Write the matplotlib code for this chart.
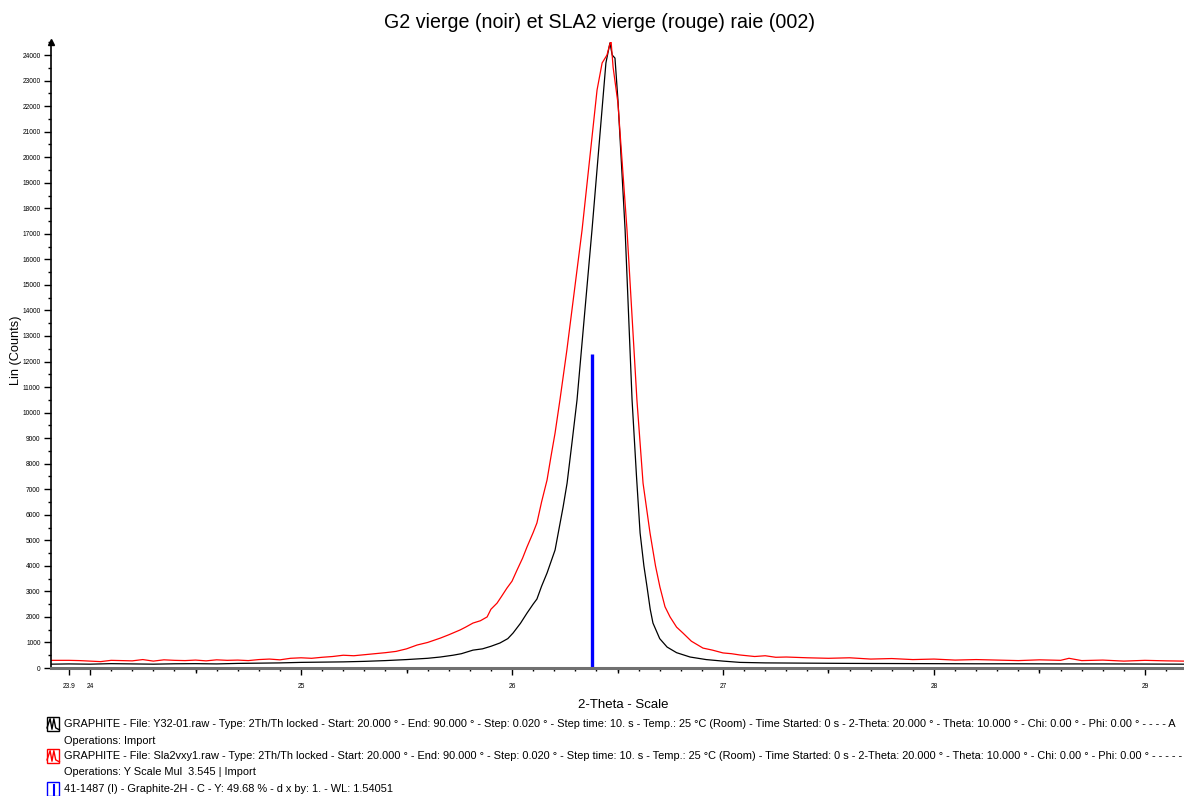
import matplotlib
import matplotlib.pyplot as plt
from matplotlib.patches import Rectangle
from matplotlib.lines import Line2D
from matplotlib.ticker import MultipleLocator

matplotlib.rcParams['font.family'] = ['Liberation Sans', 'DejaVu Sans']

# G2 vierge (noir)
theta_g2 = [23.815, 23.9, 24.0, 24.1, 24.2, 24.3, 24.4, 24.5, 24.6, 24.7, 24.8, 24.9,
            25.0, 25.1, 25.2, 25.3, 25.4, 25.5, 25.6, 25.66, 25.72, 25.76, 25.815, 25.86,
            25.9, 25.943, 25.98, 26.005, 26.04, 26.071, 26.1, 26.118, 26.14, 26.166, 26.204,
            26.242, 26.261, 26.284, 26.308, 26.379, 26.445, 26.464, 26.475, 26.488, 26.502,
            26.536, 26.569, 26.59, 26.607, 26.625, 26.64, 26.655, 26.668, 26.7, 26.735,
            26.78, 26.844, 26.92, 27.0, 27.08, 27.2, 27.4, 27.6, 27.8, 28.0, 28.2, 28.4,
            28.6, 28.8, 29.0, 29.185]
counts_g2 = [150, 160, 150, 170, 160, 150, 165, 170, 160, 180, 190, 200,
             220, 230, 240, 260, 290, 330, 380, 430, 500, 560, 700, 750,
             850, 980, 1150, 1370, 1750, 2150, 2500, 2700, 3200, 3720, 4620,
             6300, 7240, 8810, 10490, 17150, 23690, 24470, 24000, 23880, 22240,
             17150, 10490, 7500, 5290, 4000, 3170, 2300, 1760, 1150, 820,
             600, 430, 330, 270, 220, 200, 190, 180, 175, 170, 165, 165,
             160, 160, 155, 150]

# SLA2 vierge (rouge)
theta_sla2 = [23.815, 23.9, 23.95, 24.0, 24.05, 24.1, 24.15, 24.2, 24.25, 24.3, 24.35,
              24.4, 24.45, 24.5, 24.55, 24.6, 24.65, 24.7, 24.75, 24.8, 24.85, 24.9,
              24.95, 25.0, 25.05, 25.1, 25.15, 25.2, 25.25, 25.3, 25.35, 25.4, 25.45,
              25.5, 25.55, 25.6, 25.66, 25.7, 25.754, 25.78, 25.815, 25.85, 25.882, 25.9,
              25.929, 25.95, 25.976, 26.0, 26.024, 26.05, 26.071, 26.1, 26.118, 26.14,
              26.166, 26.185, 26.204, 26.227, 26.26, 26.332, 26.403, 26.427, 26.45,
              26.469, 26.479, 26.502, 26.545, 26.592, 26.621, 26.654, 26.68, 26.701,
              26.725, 26.749, 26.78, 26.81, 26.85, 26.905, 26.95, 27.0, 27.04, 27.08,
              27.15, 27.2, 27.25, 27.3, 27.4, 27.5, 27.6, 27.7, 27.8, 27.9, 28.0, 28.1,
              28.2, 28.3, 28.4, 28.5, 28.6, 28.64, 28.7, 28.8, 28.9, 29.0, 29.1, 29.185]
counts_sla2 = [300, 300, 290, 270, 250, 300, 290, 280, 330, 270, 320,
               300, 290, 310, 280, 320, 300, 310, 290, 330, 350, 320,
               380, 400, 380, 420, 450, 500, 480, 520, 560, 600, 650,
               750, 900, 1000, 1170, 1300, 1490, 1600, 1760, 1850, 2000, 2300,
               2540, 2800, 3130, 3400, 3840, 4300, 4740, 5300, 5680, 6500,
               7360, 8300, 9200, 10490, 12450, 17150, 22630, 23690, 24000,
               24590, 23530, 22120, 17150, 10490, 7240, 5290, 4000, 3170,
               2400, 2000, 1600, 1370, 1050, 780, 700, 590, 560, 510,
               450, 480, 420, 430, 400, 380, 400, 350, 370, 330, 350, 310,
               330, 310, 290, 320, 300, 380, 290, 310, 270, 300, 280, 270]

# 41-1487 Graphite-2H stick
ref_theta = [26.38]
ref_counts = [12290]

x_major = [23.9, 24, 25, 26, 27, 28, 29]
x_half = [24.5, 25.5, 26.5, 27.5, 28.5]

legend_lines = [
    'GRAPHITE - File: Y32-01.raw - Type: 2Th/Th locked - Start: 20.000 ° - End: 90.000 ° - Step: 0.020 ° - Step time: 10. s - Temp.: 25 °C (Room) - Time Started: 0 s - 2-Theta: 20.000 ° - Theta: 10.000 ° - Chi: 0.00 ° - Phi: 0.00 ° - - - - A',
    'Operations: Import',
    'GRAPHITE - File: Sla2vxy1.raw - Type: 2Th/Th locked - Start: 20.000 ° - End: 90.000 ° - Step: 0.020 ° - Step time: 10. s - Temp.: 25 °C (Room) - Time Started: 0 s - 2-Theta: 20.000 ° - Theta: 10.000 ° - Chi: 0.00 ° - Phi: 0.00 ° - - - - -',
    'Operations: Y Scale Mul  3.545 | Import',
    '41-1487 (I) - Graphite-2H - C - Y: 49.68 % - d x by: 1. - WL: 1.54051',
]

fig = plt.figure(figsize=(11.84, 7.96), dpi=100)
ax = fig.add_axes([0.0431, 0.1608, 0.9569, 0.7864])

ax.plot(theta_g2, counts_g2, color='black', lw=0.9)
ax.plot(theta_sla2, counts_sla2, color='red', lw=0.9)
ax.vlines(ref_theta, 0, ref_counts, color='#0000ff', lw=2.4)

ax.set_xlim(23.815, 29.185)
ax.set_ylim(0, 24510)

ax.spines['top'].set_visible(False)
ax.spines['right'].set_visible(False)
ax.spines['left'].set_linewidth(1.2)
ax.spines['bottom'].set_color('#707070')
ax.spines['bottom'].set_linewidth(2.2)
ax.plot([23.815], [24510], marker='^', color='black', ms=4, clip_on=False)

ax.yaxis.set_major_locator(MultipleLocator(1000))
ax.yaxis.set_minor_locator(MultipleLocator(500))
ax.set_xticks(x_major)
ax.set_xticklabels([('%g' % v) for v in x_major])
ax.xaxis.set_minor_locator(MultipleLocator(0.1))
ax.tick_params(axis='both', which='major', labelsize=4.8, length=5, width=1, color='black')
ax.tick_params(axis='y', which='major', pad=2.5)
ax.tick_params(axis='x', which='major', pad=6)
ax.tick_params(axis='both', which='minor', length=2.5, width=1, color='black')

sec = ax.secondary_xaxis('bottom')
sec.set_xticks(x_half)
sec.set_xticklabels([])
sec.tick_params(length=3.8, width=1, color='black')
sec.spines['bottom'].set_visible(False)

fig.text(0.506, 0.972, 'G2 vierge (noir) et SLA2 vierge (rouge) raie (002)',
         ha='center', va='center', fontsize=14.1)
fig.text(0.526, 0.1143, '2-Theta - Scale', ha='center', va='center', fontsize=9.5)
fig.text(0.0132, 0.560, 'Lin (Counts)', ha='center', va='center', rotation=90, fontsize=9.2)

# legend block at the bottom
icon_colors = ['black', None, 'red', None, '#0000ff']
y_rows = [0.0905, 0.0691, 0.0503, 0.0302, 0.0088]
for txt, col, yy in zip(legend_lines, icon_colors, y_rows):
    fig.text(0.054, yy, txt, ha='left', va='center', fontsize=7.9)
    if col is None:
        continue
    x0, w, h = 0.0397, 0.0105, 0.0165
    fig.add_artist(Rectangle((x0, yy - h / 2), w, h, transform=fig.transFigure,
                             fill=False, ec=col, lw=1))
    if col == '#0000ff':
        fig.add_artist(Line2D([x0 + w * 0.6, x0 + w * 0.6], [yy - h / 2, yy + h * 0.3],
                              transform=fig.transFigure, color=col, lw=1.5))
    else:
        fig.add_artist(Line2D([x0, x0 + w * 0.25, x0 + w * 0.4, x0 + w * 0.55, x0 + w * 0.7, x0 + w],
                              [yy - h * 0.3, yy + h * 0.4, yy - h * 0.4, yy + h * 0.4, yy - h * 0.3, yy - h * 0.45],
                              transform=fig.transFigure, color=col, lw=1))

fig.savefig('out.png', dpi=100)
